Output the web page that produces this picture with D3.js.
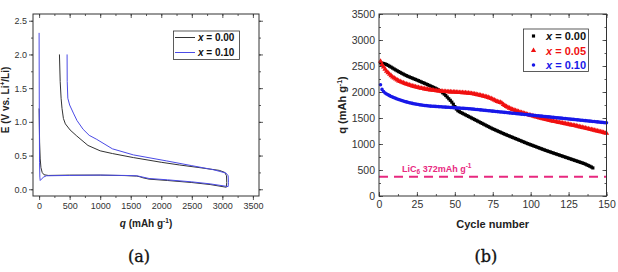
<!DOCTYPE html>
<html><head><meta charset="utf-8">
<script src="https://cdn.jsdelivr.net/npm/d3@7"></script>
<style>
body{margin:0;background:#fff;}
</style></head>
<body><svg id="c" width="618" height="272" font-family="Liberation Sans, Arial, sans-serif"></svg>
<script>
// ---------- Panel (a): voltage profiles ----------
const aSeries = ["x = 0.00", "x = 0.10"];
const aBlackDis = [[0,1.2],[8,0.7],[18,0.45],[30,0.32],[50,0.25],[80,0.215],[150,0.205],[500,0.21],[1000,0.21],[1400,0.203],[1600,0.195],[1650,0.185],[1700,0.17],[1800,0.15],[2100,0.13],[2500,0.1],[2800,0.07],[3065,0.03]];
const aBlackCha = [[3065,0.03],[3072,0.1],[3068,0.2],[3040,0.25],[2950,0.28],[2635,0.32],[2300,0.36],[2000,0.4],[1543,0.47],[1200,0.53],[1000,0.57],[800,0.65],[617,0.79],[507,0.88],[430,0.97],[398,1.05],[375,1.2],[360,1.35],[345,1.6],[333,2.0]];
const aBlueDis = [[0,2.32],[3,1.2],[7,0.4],[12,0.18],[18,0.13],[40,0.15],[70,0.18],[120,0.2],[500,0.205],[1000,0.21],[1400,0.205],[1600,0.2],[1650,0.19],[1700,0.18],[1800,0.16],[2100,0.14],[2500,0.11],[2800,0.08],[3095,0.04]];
const aBlueCha = [[3095,0.04],[3100,0.1],[3095,0.2],[3060,0.24],[2853,0.29],[2500,0.35],[2090,0.42],[1543,0.51],[1200,0.6],[944,0.74],[820,0.8],[720,0.89],[620,1.02],[561,1.13],[500,1.25],[470,1.35],[460,1.6],[458,2.0]];
const aXTicks = [0,500,1000,1500,2000,2500,3000,3500];
const aYTicks = [0.0,0.5,1.0,1.5,2.0,2.5];

// ---------- Panel (b): cycling ----------
const bSeries = ["x = 0.00", "x = 0.05", "x = 0.10"];
const bBlack = [2560,2555,2548,2540,2528,2512,2495,2478,2460,2442,
2425,2408,2392,2376,2360,2345,2330,2316,2302,2290,
2278,2266,2254,2242,2230,2218,2205,2192,2180,2168,
2155,2142,2128,2115,2102,2088,2075,2060,2045,2028,
2008,1985,1960,1932,1902,1870,1840,1805,1765,1720,
1672,1640,1622,1606,1591,1576,1561,1546,1531,1516,
1501,1486,1471,1456,1441,1426,1411,1396,1381,1366,
1351,1336,1321,1306,1292,1279,1266,1253,1240,1227,
1214,1201,1188,1176,1164,1152,1140,1128,1116,1104,
1092,1080,1068,1056,1044,1032,1020,1008,997,986,
975,964,953,942,931,920,909,898,887,876,
866,856,846,836,826,816,806,796,786,776,
766,756,746,736,726,716,706,696,686,676,
666,656,646,636,626,614,600,587,573,558,540];
const bRed = [2590,2530,2480,2440,2400,2370,2340,2315,2290,2268,
2248,2230,2214,2200,2188,2176,2165,2155,2145,2135,
2126,2117,2108,2100,2092,2085,2078,2072,2066,2060,
2055,2050,2045,2041,2037,2033,2029,2025,2021,2018,
2015,2012,2010,2008,2006,2004,2002,2000,1999,1998,
1996,1994,1992,1990,1988,1986,1984,1981,1978,1975,
1970,1965,1960,1954,1948,1942,1935,1928,1921,1914,
1906,1896,1885,1873,1860,1846,1832,1818,1806,1800,
1790,1760,1740,1722,1705,1690,1677,1665,1653,1642,
1632,1622,1612,1603,1594,1585,1576,1567,1558,1550,
1542,1534,1526,1518,1510,1502,1494,1487,1480,1473,
1466,1459,1452,1445,1438,1432,1426,1420,1414,1408,
1402,1396,1390,1384,1378,1372,1366,1360,1354,1348,
1341,1334,1327,1320,1313,1306,1299,1292,1285,1278,
1271,1264,1257,1250,1243,1236,1229,1221,1213,1205];
const bBlue = [2140,2050,2010,1982,1962,1945,1930,1915,1902,1890,
1878,1867,1856,1846,1836,1827,1818,1810,1802,1795,
1788,1781,1775,1769,1763,1758,1753,1749,1745,1741,
1738,1735,1732,1729,1727,1725,1723,1721,1719,1717,
1715,1713,1711,1709,1707,1705,1703,1701,1699,1697,
1695,1693,1691,1689,1687,1685,1683,1681,1679,1677,
1674,1671,1668,1665,1662,1659,1656,1653,1650,1647,
1644,1641,1638,1635,1632,1629,1626,1623,1620,1617,
1614,1611,1608,1605,1602,1599,1596,1593,1590,1587,
1584,1581,1578,1575,1572,1569,1566,1563,1560,1557,
1554,1551,1548,1545,1542,1539,1536,1533,1530,1527,
1524,1521,1518,1515,1512,1509,1506,1503,1500,1497,
1494,1491,1488,1485,1482,1479,1476,1473,1470,1467,
1464,1461,1458,1455,1452,1449,1446,1443,1440,1437,
1434,1431,1428,1425,1422,1419,1416,1413,1410,1407];
const bRef = 372;
const bXTicks = [0,25,50,75,100,125,150];
const bYTicks = [0,500,1000,1500,2000,2500,3000,3500];

const svg = d3.select("#c");
const SANS = "Liberation Sans, Arial, sans-serif";
const SERIF = "DejaVu Serif, serif";

// ===== Panel (a) =====
const aL=33, aR=259, aT=14, aB=196;
const ax = d3.scaleLinear().domain([-100,3600]).range([aL,aR]);
const ay = d3.scaleLinear().domain([-0.1,2.6]).range([aB,aT]);
const ga = svg.append("g");
const tickCol="#333";
function styleAxis(g){g.selectAll("path").remove();g.selectAll("line").attr("stroke","#333").attr("stroke-width",0.8);g.selectAll("text").attr("fill",tickCol).attr("font-family",SANS);}
ga.append("g").attr("transform",`translate(0,${aB})`).call(d3.axisBottom(ax).tickValues(d3.range(0,3600,250)).tickSize(2).tickFormat("")).call(styleAxis);
ga.append("g").attr("transform",`translate(${aL},0)`).call(d3.axisLeft(ay).tickValues(d3.range(0,2.6,0.25)).tickSize(2).tickFormat("")).call(styleAxis);
ga.append("g").attr("transform",`translate(0,${aT})`).call(d3.axisTop(ax).tickValues(d3.range(0,3600,250)).tickSize(-2).tickFormat("")).call(styleAxis);
ga.append("g").attr("transform",`translate(${aR},0)`).call(d3.axisRight(ay).tickValues(d3.range(0,2.6,0.25)).tickSize(2).tickFormat("")).call(styleAxis);
ga.append("g").attr("transform",`translate(0,${aT})`).call(d3.axisTop(ax).tickValues(aXTicks).tickSize(-4).tickFormat("")).call(styleAxis);
ga.append("g").attr("transform",`translate(${aR},0)`).call(d3.axisRight(ay).tickValues(aYTicks).tickSize(4).tickFormat("")).call(styleAxis);
ga.append("g").attr("transform",`translate(0,${aB})`).call(d3.axisBottom(ax).tickValues(aXTicks).tickSize(4).tickPadding(3).tickFormat(d3.format("d")))
  .call(styleAxis).selectAll("text").attr("font-size",9);
ga.append("g").attr("transform",`translate(${aL},0)`).call(d3.axisLeft(ay).tickValues(aYTicks).tickSize(4).tickPadding(2).tickFormat(d3.format(".1f")))
  .call(styleAxis).selectAll("text").attr("font-size",9);
ga.append("rect").attr("x",aL).attr("y",aT).attr("width",aR-aL).attr("height",aB-aT).attr("fill","none").attr("stroke","#333").attr("stroke-width",1);
const lineA = d3.line().curve(d3.curveMonotoneY).x(d=>ax(d[0])).y(d=>ay(d[1]));
const lineA2 = d3.line().x(d=>ax(d[0])).y(d=>ay(d[1]));
const aColors = ["#333","#4b4be6"];
[[aBlackDis.concat(aBlackCha),0],[aBlueDis.concat(aBlueCha),1]].forEach(([d,i])=>{
  ga.append("path").datum(d).attr("d",lineA2).attr("fill","none").attr("stroke",aColors[i]).attr("stroke-width",1).attr("stroke-linejoin","round");
});
const la = ga.append("g");
la.append("rect").attr("x",173.5).attr("y",31).attr("width",66).attr("height",28.5).attr("fill","#fff").attr("stroke","#333").attr("stroke-width",0.8);
aSeries.forEach((s,i)=>{
  const y=37.5+i*15;
  la.append("line").attr("x1",175).attr("x2",195).attr("y1",y).attr("y2",y).attr("stroke",aColors[i]).attr("stroke-width",1);
  const t=la.append("text").attr("x",198).attr("y",y+3.7).attr("font-size",10).attr("font-weight","bold").attr("fill","#111");
  t.append("tspan").attr("font-style","italic").text("x");
  t.append("tspan").text(s.slice(1));
});
const tA = ga.append("text").attr("x",146).attr("y",227).attr("text-anchor","middle").attr("font-size",10).attr("font-weight","bold").attr("fill","#222");
tA.append("tspan").attr("font-style","italic").text("q");
tA.append("tspan").text(" (mAh g");
tA.append("tspan").attr("font-size",6.5).attr("dy",-4).text("-1");
tA.append("tspan").attr("dy",4).text(")");
const yA = ga.append("text").attr("transform","translate(9,100) rotate(-90)").attr("text-anchor","middle").attr("font-size",10).attr("font-weight","bold").attr("fill","#222");
yA.append("tspan").text("E (V vs. Li");
yA.append("tspan").attr("font-size",6.5).attr("dy",-4).text("+");
yA.append("tspan").attr("dy",4).text("/Li)");
svg.append("text").attr("x",139).attr("y",262).attr("text-anchor","middle").attr("font-family",SERIF).attr("font-size",16).attr("fill","#111").attr("stroke","#111").attr("stroke-width",0.35).text("(a)");

// ===== Panel (b) =====
const bL=379, bR=606.5, bT=14, bB=196;
const bx = d3.scaleLinear().domain([0,150]).range([bL,bR]);
const by = d3.scaleLinear().domain([0,3500]).range([bB,bT]);
const gb = svg.append("g");
gb.append("g").attr("transform",`translate(0,${bB})`).call(d3.axisBottom(bx).tickValues(d3.range(0,151,12.5)).tickSize(-2).tickFormat("")).call(styleAxis);
gb.append("g").attr("transform",`translate(${bL},0)`).call(d3.axisLeft(by).tickValues(d3.range(0,3501,250)).tickSize(-2).tickFormat("")).call(styleAxis);
gb.append("g").attr("transform",`translate(0,${bT})`).call(d3.axisTop(bx).tickValues(d3.range(0,151,12.5)).tickSize(-2).tickFormat("")).call(styleAxis);
gb.append("g").attr("transform",`translate(${bR},0)`).call(d3.axisRight(by).tickValues(d3.range(0,3501,250)).tickSize(-2).tickFormat("")).call(styleAxis);
gb.append("g").attr("transform",`translate(0,${bT})`).call(d3.axisTop(bx).tickValues(bXTicks).tickSize(-4).tickFormat("")).call(styleAxis);
gb.append("g").attr("transform",`translate(${bR},0)`).call(d3.axisRight(by).tickValues(bYTicks).tickSize(-4).tickFormat("")).call(styleAxis);
gb.append("g").attr("transform",`translate(0,${bB})`).call(d3.axisBottom(bx).tickValues(bXTicks).tickSize(-4).tickPadding(5).tickFormat(d3.format("d")))
  .call(styleAxis).selectAll("text").attr("font-size",10.5);
gb.append("g").attr("transform",`translate(${bL},0)`).call(d3.axisLeft(by).tickValues(bYTicks).tickSize(-4).tickPadding(4).tickFormat(d3.format("d")))
  .call(styleAxis).selectAll("text").attr("font-size",10.5);
const refCol="#e8287f";
gb.append("line").attr("x1",bL).attr("x2",bR).attr("y1",by(bRef)).attr("y2",by(bRef)).attr("stroke",refCol).attr("stroke-width",2).attr("stroke-dasharray","9,6");
const rt = gb.append("text").attr("x",402).attr("y",by(bRef)-5).attr("font-size",9).attr("font-weight","bold").attr("fill",refCol);
rt.append("tspan").text("LiC");
rt.append("tspan").attr("font-size",6.5).attr("dy",2).text("6");
rt.append("tspan").attr("dy",-2).text(" 372mAh g");
rt.append("tspan").attr("font-size",6.5).attr("dy",-3.5).text("-1");
const bColors=["#000","#f01010","#1818e8"];
const sym=[d3.symbolSquare,d3.symbolTriangle,d3.symbolCircle];
[bBlack,bRed,bBlue].forEach((arr,i)=>{
  gb.append("g").selectAll("path").data(arr).join("path")
    .attr("transform",(d,k)=>`translate(${bx(k+1)},${by(d)})`)
    .attr("d",d3.symbol().type(sym[i]).size(i==1?12:10)).attr("fill",bColors[i]);
});
gb.append("rect").attr("x",bL).attr("y",bT).attr("width",bR-bL).attr("height",bB-bT).attr("fill","none").attr("stroke","#333").attr("stroke-width",1);
const lb=gb.append("g");
lb.append("rect").attr("x",523.5).attr("y",29).attr("width",65).attr("height",42.5).attr("fill","#fff").attr("stroke","#333").attr("stroke-width",0.8);
bSeries.forEach((s,i)=>{
  const y=36+i*14.5;
  lb.append("path").attr("transform",`translate(533.5,${y})`).attr("d",d3.symbol().type(sym[i]).size(i==1?12:10)).attr("fill",bColors[i]);
  const t=lb.append("text").attr("x",546).attr("y",y+4).attr("font-size",11).attr("font-weight","bold").attr("fill",bColors[i]==="#000"?"#111":bColors[i]);
  t.append("tspan").attr("font-style","italic").text("x");
  t.append("tspan").text(s.slice(1));
});
gb.append("text").attr("x",492.7).attr("y",228).attr("text-anchor","middle").attr("font-size",11).attr("font-weight","bold").attr("fill","#222").text("Cycle number");
const yB = gb.append("text").attr("transform","translate(346,105) rotate(-90)").attr("text-anchor","middle").attr("font-size",11).attr("font-weight","bold").attr("fill","#222");
yB.append("tspan").text("q (mAh g");
yB.append("tspan").attr("font-size",7).attr("dy",-4).text("-1");
yB.append("tspan").attr("dy",4).text(")");
svg.append("text").attr("x",485.8).attr("y",262).attr("text-anchor","middle").attr("font-family",SERIF).attr("font-size",16).attr("fill","#111").attr("stroke","#111").attr("stroke-width",0.35).text("(b)");
</script></body></html>
